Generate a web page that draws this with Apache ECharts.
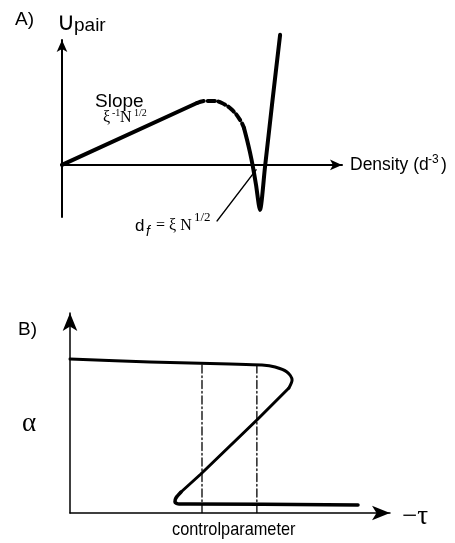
<!DOCTYPE html>
<html>
<head>
<meta charset="utf-8">
<script src="https://cdn.jsdelivr.net/npm/echarts@6/dist/echarts.min.js"></script>
<style>
html, body { margin: 0; padding: 0; background: #fff; }
#chart { width: 455px; height: 543px; }
</style>
</head>
<body>
<div id="chart"></div>
<script>
// panel A: pair potential vs density (sketch units)
var aRise = [[0, 0], [4.82, 2.38]]
var aUnstable = [[4.82, 2.38], [5.11, 2.46], [5.39, 2.46], [5.71, 2.38], [6.07, 2.12], [6.36, 1.73], [6.5, 1.42]]
var aWell = [[6.5, 1.42], [6.61, 0.96], [6.71, 0.5], [6.82, -0.08], [6.93, -0.77], [7.07, -1.73], [7.25, -0.08], [7.5, 2.31], [7.79, 5.0]]
var aPointer = [[5.54, -2.15], [6.93, -0.19]]

// panel B: order parameter alpha vs control parameter -tau
var bUpper = [[0, 7.7], [2.5, 7.55], [5, 7.45], [6, 7.4], [6.41, 7.3], [6.78, 7.05], [6.94, 6.65], [6.84, 6.25]]
var bMiddle = [[6.84, 6.25], [5.84, 4.65], [4.09, 1.95], [3.47, 1.05]]
var bLower = [[3.47, 1.05], [3.31, 0.75], [3.28, 0.55], [3.41, 0.45], [3.75, 0.45], [9.0, 0.4]]
var bSpinodals = [4.125, 5.84]
var bSpinodalTop = 7.4

var sans = '"Liberation Sans", Arial, sans-serif'
var serif = '"Liberation Serif", "Times New Roman", serif'

function curve(name, data, xi, width, type, smooth) {
  return {
    name: name,
    type: 'line',
    xAxisIndex: xi,
    yAxisIndex: xi,
    data: data,
    showSymbol: false,
    symbol: 'none',
    smooth: smooth || false,
    clip: false,
    silent: true,
    lineStyle: { color: '#000', width: width, type: type || 'solid', cap: 'round', join: 'round' }
  }
}

function txt(text, x, y, font, scaleX) {
  return {
    type: 'text',
    x: x,
    y: y,
    scaleX: scaleX || 1,
    silent: true,
    style: {
      text: text,
      font: font,
      fill: '#000',
      align: 'left',
      verticalAlign: 'middle',
      textAlign: 'left',
      textVerticalAlign: 'middle'
    }
  }
}

var axisArrow = function (width, size) {
  return {
    show: true,
    onZero: true,
    symbol: ['none', 'arrow'],
    symbolSize: size,
    lineStyle: { color: '#000', width: width }
  }
}

var hidden = {
  axisTick: { show: false },
  axisLabel: { show: false },
  splitLine: { show: false }
}

var series = [
  curve('rise', aRise, 0, 4),
  curve('unstable', aUnstable, 0, 4, [7, 4], 0.4),
  curve('well', aWell, 0, 4, 'solid', 0.25),
  curve('pointer', aPointer, 0, 1.5),
  curve('upper', bUpper, 1, 3, 'solid', 0.3),
  curve('middle', bMiddle, 1, 3),
  curve('lower', bLower, 1, 3.5, 'solid', 0.3)
]
bSpinodals.forEach(function (x, i) {
  series.push(curve('spinodal' + i, [[x, bSpinodalTop], [x, 0]], 1, 1.3, [8, 3, 1.5, 3]))
})

var chart = echarts.init(document.getElementById('chart'))
chart.setOption({
  animation: false,
  backgroundColor: '#fff',
  grid: [
    { left: 62, top: 40, width: 280, height: 177 },
    { left: 70, top: 313, width: 320, height: 200 }
  ],
  xAxis: [
    Object.assign({ type: 'value', gridIndex: 0, min: 0, max: 10, axisLine: axisArrow(2, [8, 12]) }, hidden),
    Object.assign({ type: 'value', gridIndex: 1, min: 0, max: 10, axisLine: axisArrow(1.5, [11, 18]) }, hidden)
  ],
  yAxis: [
    Object.assign({ type: 'value', gridIndex: 0, min: -2, max: 4.8, axisLine: axisArrow(2, [8, 12]) }, hidden),
    Object.assign({ type: 'value', gridIndex: 1, min: 0, max: 10, axisLine: axisArrow(1.5, [11, 18]) }, hidden)
  ],
  graphic: [
    txt('A)', 15, 20, '19px ' + sans),
    txt('∪', 57, 23, '25px "DejaVu Sans", sans-serif'),
    txt('pair', 74, 26, '19px ' + sans),
    txt('Slope', 95, 102, '19px ' + sans),
    txt('ξ', 103, 118, '16px ' + serif),
    txt('-1', 112, 113, '10px ' + serif),
    txt('N', 120, 118, '16px ' + serif),
    txt('1/2', 134, 113, '10px ' + serif),
    txt('d', 135, 226, '17px ' + sans),
    txt('f', 146, 232, 'italic 14px ' + sans),
    txt('= ξ N', 156, 226, '16px ' + serif),
    txt('1/2', 194, 218, '13px ' + serif),
    txt('Density (d', 350, 165, '17.5px ' + sans),
    txt('-3', 428, 160, '12px ' + sans),
    txt(')', 441, 165, '17.5px ' + sans),
    txt('B)', 18, 330, '19px ' + sans),
    txt('α', 22, 424, '27px ' + serif),
    txt('controlparameter', 172, 530, '19px ' + sans, 0.86),
    txt('−τ', 402, 517, '27px ' + serif)
  ],
  series: series
})
</script>
</body>
</html>
